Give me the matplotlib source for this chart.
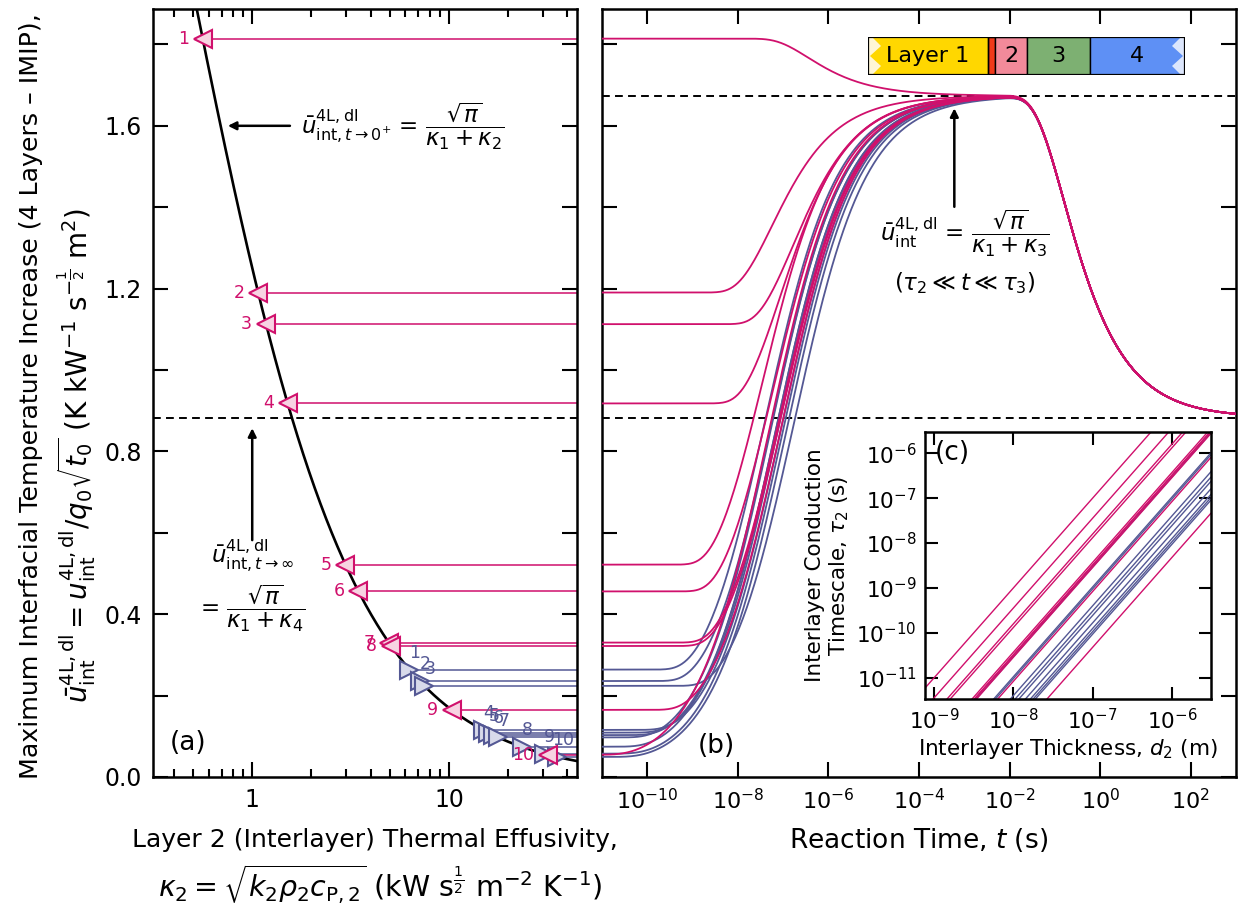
import numpy as np
import matplotlib
matplotlib.use("Agg")
import matplotlib.pyplot as plt
from matplotlib.patches import Rectangle, Polygon
from math import factorial

# ---------------- data ----------------
kappa1 = 0.417          # layer 1 effusivity
kappa3 = 0.642          # layer 3 effusivity
kappa4 = 1.59           # layer 4 effusivity
d2 = 1.0e-7             # interlayer thickness used in panel (b), m
tau3 = 5.0e-2           # layer-3 conduction timescale, s

pink_labels = ["1", "2", "3", "4", "5", "6", "7", "8", "9", "10"]
pink_kappa2 = [0.560, 1.072, 1.176, 1.514, 2.98, 3.47, 4.95, 5.09, 10.33, 32.0]
pink_alpha2 = [1.0e-7, 7.6e-7, 2.8e-7, 6.3e-7, 3.5e-6, 2.7e-6, 3.1e-6, 3.1e-6, 1.2e-5, 2.1e-4]

blue_labels = ["1", "2", "3", "4", "5", "6", "7", "8", "9", "10"]
blue_kappa2 = [6.3, 7.1, 7.5, 14.9, 15.85, 16.8, 17.8, 23.4, 30.5, 35.5]
blue_alpha2 = [1.05e-5, 9.5e-6, 3.4e-6, 2.5e-5, 3.3e-5, 4.1e-5, 6.0e-5, 8.0e-5, 9.4e-5, 1.07e-4]

PINK = "#D0106C"
BLUE = "#545894"
PINK_FACE = "#F7D3E2"
BLUE_FACE = "#D8DAEA"

# ---------------- helpers ----------------
SQPI = np.sqrt(np.pi)


def stehfest(N=14):
    half = N // 2
    V = np.zeros(N)
    for k in range(1, N + 1):
        s = 0.0
        for j in range((k + 1) // 2, min(k, half) + 1):
            s += (j ** half * factorial(2 * j)) / (
                factorial(half - j) * factorial(j) * factorial(j - 1)
                * factorial(k - j) * factorial(2 * j - k))
        V[k - 1] = (-1) ** (k + half) * s
    return V


VST = stehfest(14)


def u_int(t, k2, tau2):
    """normalised interfacial temperature of the 4-layer model"""
    ln2 = np.log(2.0)
    kk = np.arange(1, len(VST) + 1)
    s = np.outer(ln2 / t, kk)
    th3 = np.tanh(np.sqrt(s * tau3))
    Y3 = kappa3 * (kappa4 + kappa3 * th3) / (kappa3 + kappa4 * th3)
    th2 = np.tanh(np.sqrt(s * tau2))
    Y2 = k2 * (Y3 + k2 * th2) / (k2 + Y3 * th2)
    F = 1.0 / (s ** 1.5 * (kappa1 + Y2))
    T = ln2 / t * (F * VST).sum(axis=1)
    return (np.pi / 2.0) * T / np.sqrt(t)


# ---------------- figure ----------------
plt.rcParams["font.family"] = ["DejaVu Sans"]
plt.rcParams["mathtext.fontset"] = "dejavusans"

W, H = 1238, 909
fig = plt.figure(figsize=(W / 100, H / 100), dpi=100)


def fx(px):
    return px / W


def fy(py):
    return 1 - py / H


axa = fig.add_axes([fx(153), fy(777), fx(577) - fx(153), fy(9) - fy(777)])
axb = fig.add_axes([fx(602), fy(777), fx(1236) - fx(602), fy(9) - fy(777)], sharey=axa)

YMAX = 1.887
for ax in (axa, axb):
    for sp in ax.spines.values():
        sp.set_linewidth(1.8)
    ax.tick_params(which="both", direction="in", top=True, right=True,
                   width=1.5, labelsize=17)
    ax.tick_params(which="major", length=10.5)
    ax.tick_params(which="minor", length=5.5)

axa.set_ylim(0, YMAX)
yt = np.round(np.arange(0, 1.81, 0.2), 1)
axa.set_yticks(yt)
axa.set_yticklabels([f"{v:.1f}" if abs((v / 0.4) - round(v / 0.4)) < 1e-6 else "" for v in yt])
axa.tick_params(axis="x", pad=8)
axa.tick_params(axis="y", pad=8)

# ---- panel (a)
axa.set_xscale("log")
axa.set_xlim(0.313, 44.8)
axa.set_xticks([1, 10])
axa.set_xticklabels(["1", "10"])
kk = np.logspace(np.log10(0.313), np.log10(44.8), 300)
axa.plot(kk, SQPI / (kappa1 + kk), color="black", lw=1.9, zorder=3)
u4 = SQPI / (kappa1 + kappa4)
u3 = SQPI / (kappa1 + kappa3)
axa.axhline(u4, color="black", lw=1.4, ls=(0, (4, 2.7)), zorder=2)

for lab, k2 in zip(blue_labels, blue_kappa2):
    u0 = SQPI / (kappa1 + k2)
    axa.plot([k2, 44.8], [u0, u0], color=BLUE, lw=1.1, zorder=2)
    axa.plot([k2], [u0], marker=">", ms=13, mfc=BLUE_FACE, mec=BLUE, mew=1.5, zorder=4)
    axa.annotate(lab, (k2, u0), xytext=(4, 12), textcoords="offset points",
                 ha="center", va="center", fontsize=12.5, color=BLUE, zorder=5)
for lab, k2 in zip(pink_labels, pink_kappa2):
    u0 = SQPI / (kappa1 + k2)
    axa.plot([k2, 44.8], [u0, u0], color=PINK, lw=1.1, zorder=2)
    axa.plot([k2], [u0], marker="<", ms=13, mfc=PINK_FACE, mec=PINK, mew=1.5, zorder=4)
    axa.annotate(lab, (k2, u0), xytext=(-10, 0), textcoords="offset points",
                 ha="right", va="center", fontsize=12.5, color=PINK, zorder=5)

ANN = 16.5
axa.annotate("", xy=(0.752, 1.6), xytext=(1.555, 1.6),
             arrowprops=dict(arrowstyle="-|>", color="black", lw=1.8,
                             mutation_scale=12, shrinkA=0, shrinkB=0))
axa.text(1.78, 1.6, r"$\bar{u}^{\mathrm{4L,dl}}_{\mathrm{int},t\rightarrow 0^{+}}$ = $\dfrac{\sqrt{\pi}}{\kappa_1+\kappa_2}$",
         fontsize=ANN, ha="left", va="center")
axa.annotate("", xy=(1.0, 0.857), xytext=(1.0, 0.582),
             arrowprops=dict(arrowstyle="-|>", color="black", lw=1.8,
                             mutation_scale=12, shrinkA=0, shrinkB=0))
axa.text(1.01, 0.544, r"$\bar{u}^{\mathrm{4L,dl}}_{\mathrm{int},t\rightarrow\infty}$",
         fontsize=ANN, ha="center", va="center")
axa.text(1.0, 0.415, r"= $\dfrac{\sqrt{\pi}}{\kappa_1+\kappa_4}$",
         fontsize=ANN, ha="center", va="center")
axa.text(0.083, 0.044, "(a)", transform=axa.transAxes, fontsize=19,
         ha="center", va="center")

# ---- panel (b)
axb.set_xscale("log")
axb.set_xlim(1e-11, 1e3)
axb.set_xticks(10.0 ** np.arange(-10, 3, 2))
axb.xaxis.set_minor_locator(matplotlib.ticker.NullLocator())
axb.tick_params(axis="y", labelleft=False)
axb.tick_params(axis="x", pad=8, labelsize=16)

t = np.logspace(-11, 3, 500)
axb.axhline(u3, color="black", lw=1.4, ls=(0, (4, 2.7)), zorder=2)
axb.axhline(u4, color="black", lw=1.4, ls=(0, (4, 2.7)), zorder=2)
for k2, a2 in zip(blue_kappa2, blue_alpha2):
    axb.plot(t, u_int(t, k2, d2 ** 2 / a2), color=BLUE, lw=1.3, zorder=3)
for k2, a2 in zip(pink_kappa2, pink_alpha2):
    axb.plot(t, u_int(t, k2, d2 ** 2 / a2), color=PINK, lw=1.3, zorder=3)

axb.annotate("", xy=(10 ** -3.22, 1.643), xytext=(10 ** -3.22, 1.401),
             arrowprops=dict(arrowstyle="-|>", color="black", lw=1.8,
                             mutation_scale=12, shrinkA=0, shrinkB=0))
axb.text(10 ** -2.98, 1.337, r"$\bar{u}^{\mathrm{4L,dl}}_{\mathrm{int}}$ = $\dfrac{\sqrt{\pi}}{\kappa_1+\kappa_3}$",
         fontsize=ANN, ha="center", va="center")
axb.text(10 ** -2.98, 1.213, r"$\left(\tau_2 \ll t \ll \tau_3\right)$",
         fontsize=ANN, ha="center", va="center")
axb.text(0.18, 0.04, "(b)", transform=axb.transAxes, fontsize=19,
         ha="center", va="center")

# ---- axis titles
fig.text(fx(375), fy(840), "Layer 2 (Interlayer) Thermal Effusivity,", fontsize=18,
         ha="center", va="center")
fig.text(fx(380), fy(884),
         r"$\kappa_2 = \sqrt{k_2\rho_2 c_{\mathrm{P},2}}$ (kW s$^{\frac{1}{2}}$ m$^{-2}$ K$^{-1}$)",
         fontsize=20.5, ha="center", va="center")
fig.text(fx(919), fy(840), r"Reaction Time, $t$ (s)", fontsize=19,
         ha="center", va="center")
fig.text(fx(31), fy(396), "Maximum Interfacial Temperature Increase (4 Layers – IMIP),",
         fontsize=18.2, rotation=90, ha="center", va="center")
fig.text(fx(77), fy(455),
         r"$\bar{u}^{\mathrm{4L,dl}}_{\mathrm{int}} = u^{\mathrm{4L,dl}}_{\mathrm{int}}/q_0\sqrt{t_0}$ (K kW$^{-1}$ s$^{-\frac{1}{2}}$ m$^{2}$)",
         fontsize=20, rotation=90, ha="center", va="center")

# ---- inset (c)
axc = fig.add_axes([fx(925), fy(699.3), fx(1210.7) - fx(925), fy(431.7) - fy(699.3)])
axc.set_facecolor("white")
axc.set_xscale("log")
axc.set_yscale("log")
dmin, dmax = 10 ** -9.115, 10 ** -5.51
axc.set_xlim(dmin, dmax)
axc.set_ylim(10 ** -11.48, 10 ** -5.52)
dd = np.logspace(np.log10(dmin), np.log10(dmax), 50)
for a2 in blue_alpha2:
    axc.plot(dd, dd ** 2 / a2, color=BLUE, lw=1.0)
for a2 in pink_alpha2:
    axc.plot(dd, dd ** 2 / a2, color=PINK, lw=1.0)
for sp in axc.spines.values():
    sp.set_linewidth(1.8)
axc.set_xticks(10.0 ** np.arange(-9, -5))
axc.set_yticks(10.0 ** np.arange(-11, -5))
axc.xaxis.set_minor_locator(matplotlib.ticker.NullLocator())
axc.yaxis.set_minor_locator(matplotlib.ticker.NullLocator())
axc.tick_params(which="both", direction="in", top=True, right=True, width=1.5,
                length=9, labelsize=15.5, pad=6)
axc.set_xlabel(r"Interlayer Thickness, $d_2$ (m)", fontsize=15.5, labelpad=3)
axc.set_ylabel("Interlayer Conduction\n" + r"Timescale, $\tau_2$ (s)", fontsize=15.5,
               labelpad=4, linespacing=1.1)
axc.text(0.094, 0.92, "(c)", transform=axc.transAxes, fontsize=19,
         ha="center", va="center")

# ---- layer schematic
axl = fig.add_axes([fx(868), fy(75), fx(1185) - fx(868), fy(37) - fy(75)])
axl.set_xlim(0, 317)
axl.set_ylim(0, 38)
axl.axis("off")
axl.add_patch(Rectangle((0, 0), 120, 38, fc="#FFD700", ec="none"))
axl.add_patch(Polygon([(0, 0), (4, 0), (13, 9), (2, 19), (13, 29), (4, 38), (0, 38)],
                      closed=True, fc="#FFF6D5", ec="none"))
axl.add_patch(Rectangle((120, 0), 7, 38, fc="#F03A1A", ec="black", lw=1.0))
axl.add_patch(Rectangle((127, 0), 32, 38, fc="#F28A9A", ec="black", lw=1.0))
axl.add_patch(Rectangle((159, 0), 63, 38, fc="#7DB072", ec="black", lw=1.0))
axl.add_patch(Rectangle((222, 0), 95, 38, fc="#5E90F5", ec="none"))
axl.add_patch(Polygon([(317, 0), (313, 0), (304, 9), (315, 19), (304, 29), (313, 38), (317, 38)],
                      closed=True, fc="#DCE6FC", ec="none"))
axl.add_patch(Rectangle((0, 0), 317, 38, fc="none", ec="black", lw=1.6))
axl.plot([120, 120], [0, 38], color="black", lw=1.0)
axl.plot([222, 222], [0, 38], color="black", lw=1.0)
axl.text(60, 19, "Layer 1", fontsize=16, ha="center", va="center")
axl.text(143, 19, "2", fontsize=16, ha="center", va="center")
axl.text(190.5, 19, "3", fontsize=16, ha="center", va="center")
axl.text(269, 19, "4", fontsize=16, ha="center", va="center")

fig.savefig("out.png", dpi=100)
